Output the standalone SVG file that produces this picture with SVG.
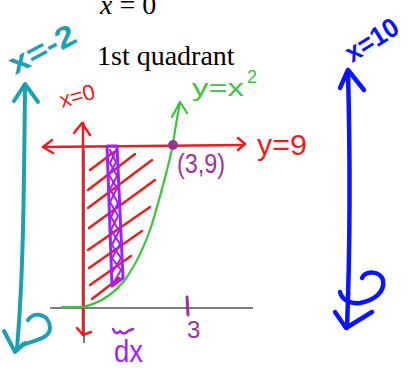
<svg xmlns="http://www.w3.org/2000/svg" width="409" height="369" viewBox="0 0 409 369">
<style>
.s{fill:none;stroke-linecap:round;stroke-linejoin:round}
.teal{stroke:#1aa0b5;stroke-width:4}
.blue{stroke:#0a14ff;stroke-width:4.5}
.red{stroke:#ee1c1c;stroke-width:2.5}
.green{stroke:#3cc43c;stroke-width:2.2}
.vio{stroke:#a020f5}
.mag{stroke:#993399}
.hand{font-family:"Liberation Sans",Arial,sans-serif}
.serif{font-family:"Liberation Serif","Times New Roman",serif;fill:#000}
</style>
<rect width="409" height="369" fill="#fff"/>

<g id="title">
  <text class="serif" x="100" y="14" font-size="28"><tspan font-style="italic">x</tspan> = 0</text>
  <text class="serif" x="97" y="65" font-size="28">1st quadrant</text>
</g>

<g id="axes">
  <path d="M50,308 L253,308" stroke="#555" stroke-width="1.6"/>
  <path d="M84,150 L84,343" stroke="#555" stroke-width="1.6"/>
</g>

<g id="hatching" class="s red" stroke-width="2.2">
  <path d="M90,170 L114,152"/>
  <path d="M88,190 L135,154"/>
  <path d="M88,208 L152,160"/>
  <path d="M89,228 L155,180"/>
  <path d="M88,250 L150,207"/>
  <path d="M89,268 L142,231"/>
  <path d="M90,285 L131,256"/>
  <path d="M92,299 L119,278"/>
</g>

<g id="connectors">
  <g id="teal-line" class="s teal">
    <path d="M25,85 C24,200 23,280 17,348"/>
    <path d="M14,101 L25,84 L38,102"/>
    <path d="M4,331 L15,352 L25,343"/>
    <path d="M28,320 C35,310 50,315 50,328 C50,338 36,340 22,345"/>
  </g>
  <g id="blue-line" class="s blue">
    <path d="M348,71 C350,150 350,250 347,328"/>
    <path d="M340,88 L348,70 L364,90"/>
    <path d="M335,312 L346,328 L372,312"/>
    <path d="M362,278 C366,270 380,271 383,280 C385,292 375,300 360,303 C350,304 342,300 340,292"/>
  </g>
  <g id="red-x0" class="s red">
    <path d="M83,123 L83,335"/>
    <path d="M74,133 L82,123 L90,135"/>
    <path d="M77,328 L83,335 L91,332"/>
  </g>
  <g id="red-y9" class="s red">
    <path d="M43,147 L244,145"/>
    <path d="M52,140 L43,147 L53,153"/>
    <path d="M238,138 L245,144 L238,150"/>
  </g>
  <g id="green-curve" class="s green">
    <path d="M62,307 L83,307 C100,303 115,294 127,277 C137,262 145,245 151,227 C158,205 163,185 167,170 C170,158 172,150 173,143 C175,130 177,118 180,102"/>
    <path d="M172,117 L180,102 L187,113"/>
  </g>
</g>

<g id="strip">
  <path class="s vio" stroke-width="3" d="M107,146 L117,146 L123,278 L112,286 Z"/>
  <path class="s vio" stroke-width="2" d="M110,150 L116,162 L109,175 L117,188 L110,202 L118,216 L111,230 L120,244 L112,258 L121,270 L114,282"/>
  <path class="s vio" stroke-width="2" d="M116,150 L110,163 L117,176 L110,189 L118,203 L111,217 L119,231 L112,245 L121,258 L113,271"/>
</g>

<g id="point">
  <circle cx="173" cy="145" r="5" fill="#993399"/>
  <text class="hand" x="177" y="173" font-size="28" fill="#993399" textLength="48" lengthAdjust="spacingAndGlyphs">(3,9)</text>
</g>

<g id="tick3">
  <path class="s mag" stroke-width="3" d="M187,297 L188,315"/>
  <text class="hand" x="187" y="338" font-size="24" fill="#993399">3</text>
</g>

<g id="dx">
  <path class="s vio" stroke-width="2.5" d="M113,329 Q116,336 120,331 Q124,336 128,331 L133,329"/>
  <text class="hand" x="114" y="362" font-size="32" fill="#a020f5" textLength="29" lengthAdjust="spacingAndGlyphs">dx</text>
</g>

<g id="labels" class="hand" font-weight="bold">
  <text x="15" y="75" font-size="30" fill="#1aa0b5" transform="rotate(-28 15 75)" textLength="72" lengthAdjust="spacingAndGlyphs">x=-2</text>
  <text x="352" y="63" font-size="27" fill="#0a14ff" transform="rotate(-32 352 63)" textLength="58" lengthAdjust="spacingAndGlyphs">x=10</text>
</g>
<g id="red-labels" class="hand">
  <text x="62" y="108" font-size="22" fill="#ee1c1c" transform="rotate(-16 62 108)" textLength="36" lengthAdjust="spacingAndGlyphs">x=0</text>
  <text x="257" y="155" font-size="30" fill="#ee1c1c" textLength="50" lengthAdjust="spacingAndGlyphs">y=9</text>
</g>
<g id="green-label" class="hand" fill="#3cc43c">
  <text x="192" y="96" font-size="24" textLength="52" lengthAdjust="spacingAndGlyphs">y=x</text>
  <text x="247" y="83" font-size="18">2</text>
</g>
</svg>
